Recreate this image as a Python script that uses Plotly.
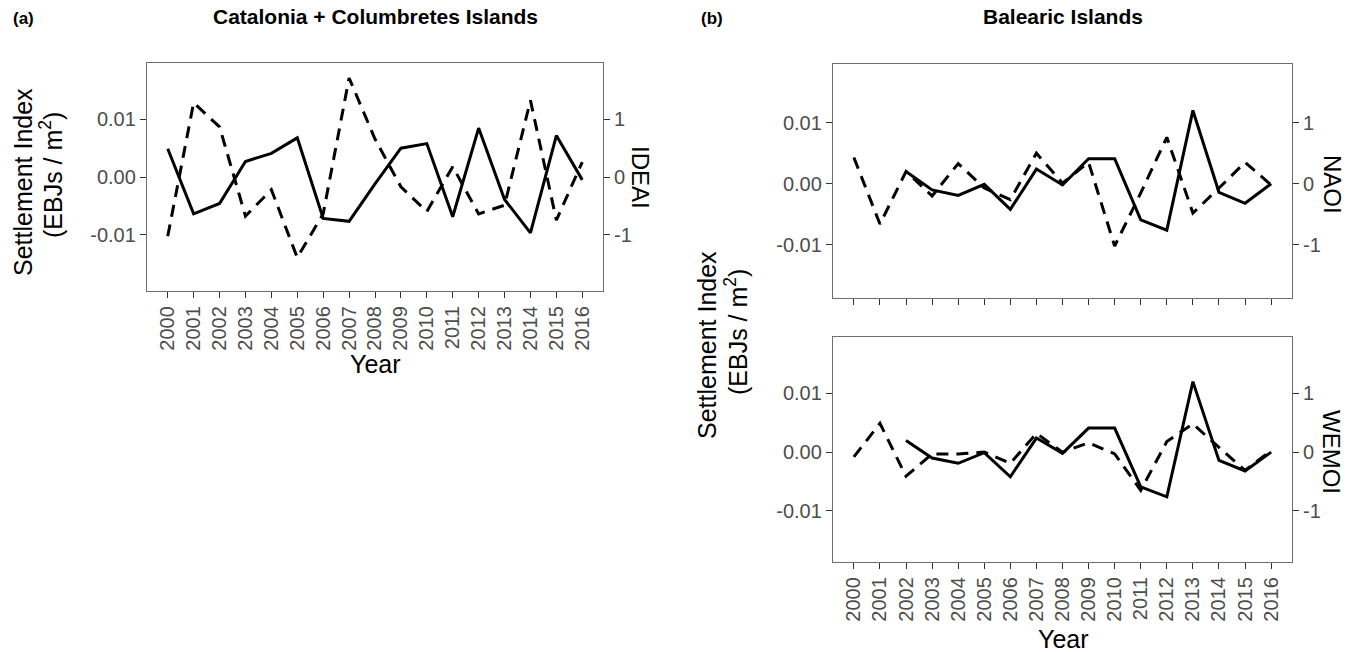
import plotly.graph_objects as go

years = list(range(2000, 2017))
year_labels = [str(y) for y in years]

# Panel (a): Catalonia + Columbretes Islands
settle_cat = [0.0049, -0.0064, -0.0046, 0.0027, 0.0041, 0.0068, -0.0072, -0.0077, -0.0012,
              0.0050, 0.0058, -0.0069, 0.0085, -0.0039, -0.0097, 0.0072, -0.0005]
ideai = [-1.03, 1.29, 0.87, -0.68, -0.22, -1.40, -0.64, 1.72, 0.66,
         -0.17, -0.60, 0.18, -0.64, -0.49, 1.33, -0.75, 0.26]

# Panel (b): Balearic Islands (settlement index starts 2002)
years_bal = list(range(2002, 2017))
settle_bal = [0.0020, -0.0010, -0.0019, -0.0001, -0.0042, 0.0024, -0.0002,
              0.0041, 0.0041, -0.0059, -0.0076, 0.0120, -0.0014, -0.0032, 0.0000]
naoi = [0.43, -0.66, 0.20, -0.20, 0.33, -0.07, -0.26, 0.50, 0.01,
        0.35, -1.02, -0.15, 0.76, -0.48, -0.07, 0.35, -0.02]
wemoi = [-0.08, 0.49, -0.41, -0.03, -0.03, 0.00, -0.19, 0.32, 0.00,
         0.16, -0.03, -0.65, 0.18, 0.48, 0.08, -0.31, 0.03]

y_ticks = [-0.01, 0.0, 0.01]
y_ticktext = ["-0.01", "0.00", "0.01"]
y2_ticks = [-1, 0, 1]
y2_ticktext = ["-1", "0", "1"]

W, H = 1357, 652
FONT = "Arial, Liberation Sans, sans-serif"
TICKC = "#4d4d4d"
BORDER = "#6e6e6e"

def px(x):
    return x / W

def py(y):
    return 1 - y / H

fig = go.Figure()
LW = 3
DASH = "12px,8px"

fig.add_trace(go.Scatter(x=years, y=settle_cat, mode="lines", line=dict(color="black", width=LW),
                         xaxis="x", yaxis="y", showlegend=False))
fig.add_trace(go.Scatter(x=years, y=ideai, mode="lines", line=dict(color="black", width=LW, dash=DASH),
                         xaxis="x", yaxis="y2", showlegend=False))
fig.add_trace(go.Scatter(x=years_bal, y=settle_bal, mode="lines", line=dict(color="black", width=LW),
                         xaxis="x2", yaxis="y3", showlegend=False))
fig.add_trace(go.Scatter(x=years, y=naoi, mode="lines", line=dict(color="black", width=LW, dash=DASH),
                         xaxis="x2", yaxis="y4", showlegend=False))
fig.add_trace(go.Scatter(x=years_bal, y=settle_bal, mode="lines", line=dict(color="black", width=LW),
                         xaxis="x3", yaxis="y5", showlegend=False))
fig.add_trace(go.Scatter(x=years, y=wemoi, mode="lines", line=dict(color="black", width=LW, dash=DASH),
                         xaxis="x3", yaxis="y6", showlegend=False))

tickfont = dict(family=FONT, size=20, color=TICKC)

def xaxis(domain, anchor, labels=True):
    return dict(domain=domain, anchor=anchor, range=[1999.2, 2016.8],
                tickmode="array", tickvals=years, ticktext=year_labels,
                showticklabels=labels,
                tickangle=-90, ticks="outside", ticklen=6, tickwidth=1.2, tickcolor="#333333",
                showline=True, linecolor=BORDER, linewidth=1.3, mirror=True,
                showgrid=False, zeroline=False, tickfont=tickfont)

def yaxis(domain, anchor, rng):
    return dict(domain=domain, anchor=anchor, range=rng,
                tickmode="array", tickvals=y_ticks, ticktext=y_ticktext,
                ticks="outside", ticklen=6, tickwidth=1.2, tickcolor="#333333",
                showline=True, linecolor=BORDER, linewidth=1.3, mirror=True,
                showgrid=False, zeroline=False, tickfont=tickfont)

def yaxis_sec(overlay, anchor, rng):
    return dict(overlaying=overlay, anchor=anchor, side="right", range=rng,
                tickmode="array", tickvals=y2_ticks, ticktext=y2_ticktext,
                ticks="outside", ticklen=6, tickwidth=1.2, tickcolor="#333333",
                showline=False, showgrid=False, zeroline=False, tickfont=tickfont)

rng_a = [-0.0198, 0.0198]
rng_b = [-0.0187, 0.0196]

dom_xa = [px(147), px(603)]
dom_ya = [py(291), py(63)]
dom_xb = [px(833), px(1292)]
dom_yb1 = [py(298), py(64)]
dom_yb2 = [py(562), py(337)]

fig.update_layout(
    width=W, height=H, margin=dict(l=0, r=0, t=0, b=0),
    paper_bgcolor="white", plot_bgcolor="white",
    font=dict(family=FONT, color="black"),
    xaxis=xaxis(dom_xa, "y"),
    yaxis=yaxis(dom_ya, "x", rng_a),
    yaxis2=yaxis_sec("y", "x", [r * 100 for r in rng_a]),
    xaxis2=xaxis(dom_xb, "y3", labels=False),
    yaxis3=yaxis(dom_yb1, "x2", rng_b),
    yaxis4=yaxis_sec("y3", "x2", [r * 100 for r in rng_b]),
    xaxis3=xaxis(dom_xb, "y5"),
    yaxis5=yaxis(dom_yb2, "x3", rng_b),
    yaxis6=yaxis_sec("y5", "x3", [r * 100 for r in rng_b]),
)

def ann(text, x, y, size, bold=False, angle=0, xanchor="center", yanchor="middle"):
    fig.add_annotation(text=f"<b>{text}</b>" if bold else text, x=px(x), y=py(y),
                       xref="paper", yref="paper", showarrow=False, textangle=angle,
                       xanchor=xanchor, yanchor=yanchor,
                       font=dict(family=FONT, size=size, color="black"))

ann("(a)", 11, 19, 17, bold=True, xanchor="left")
ann("Catalonia + Columbretes Islands", 375, 17, 21, bold=True)
ann("(b)", 699, 19, 17, bold=True, xanchor="left")
ann("Balearic Islands", 1063, 17, 21, bold=True)

ann("Settlement Index", 23, 182, 25, angle=-90)
ann("(EBJs / m<sup>2</sup>)", 51, 175, 25, angle=-90)
ann("IDEAI", 641, 177, 24, angle=90)
ann("Year", 375, 364, 25)

ann("Settlement Index", 707, 345, 25, angle=-90)
ann("(EBJs / m<sup>2</sup>)", 736, 332, 25, angle=-90)
ann("NAOI", 1332, 184, 24, angle=90)
ann("WEMOI", 1332, 452, 24, angle=90)
ann("Year", 1063, 639, 25)

fig.write_html(
    "out.html",
    config={"displayModeBar": False},
    post_script="document.body.style.margin='0px';document.body.style.overflow='hidden';",
)
